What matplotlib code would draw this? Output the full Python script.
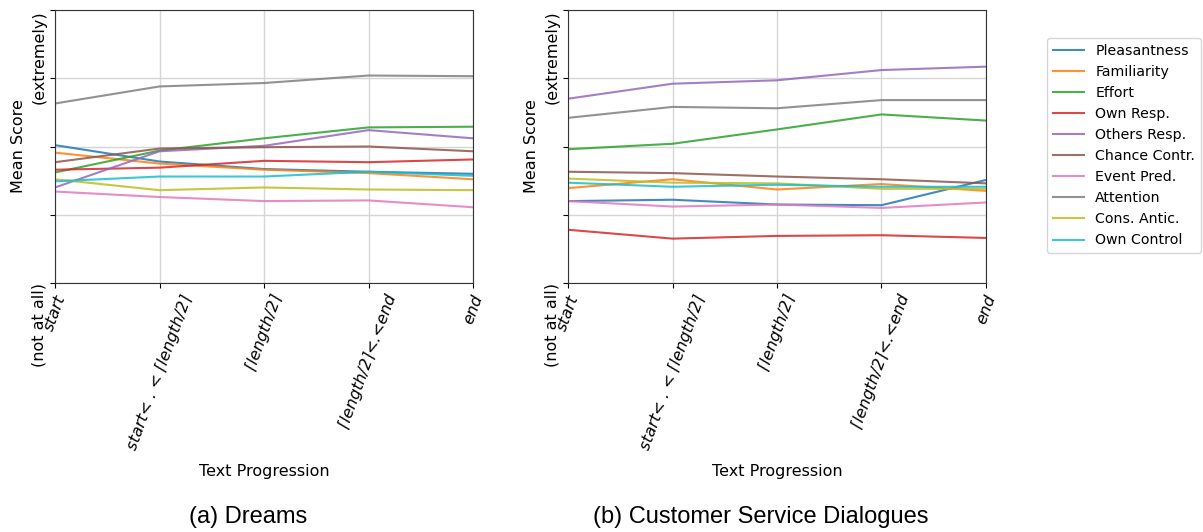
import numpy as np
import matplotlib
matplotlib.use("Agg")
import matplotlib.pyplot as plt

# x positions along the text
stages = ["start",
          "start< . < \u2308length/2\u2309",
          "\u2308length/2\u2309",
          "\u2308length/2\u2309<.<end",
          "end"]

dims = ["Pleasantness", "Familiarity", "Effort", "Own Resp.", "Others Resp.",
        "Chance Contr.", "Event Pred.", "Attention", "Cons. Antic.", "Own Control"]

# (a) Dreams
dreams_pleasantness = [3.02, 2.78, 2.67, 2.63, 2.60]
dreams_familiarity = [2.91, 2.75, 2.66, 2.61, 2.52]
dreams_effort = [2.62, 2.94, 3.12, 3.28, 3.29]
dreams_own_resp = [2.66, 2.69, 2.79, 2.77, 2.81]
dreams_others_resp = [2.40, 2.93, 3.01, 3.24, 3.12]
dreams_chance = [2.77, 2.97, 2.99, 3.00, 2.93]
dreams_event_pred = [2.34, 2.26, 2.20, 2.21, 2.11]
dreams_attention = [3.63, 3.88, 3.93, 4.04, 4.03]
dreams_cons_antic = [2.52, 2.36, 2.40, 2.37, 2.36]
dreams_own_control = [2.49, 2.56, 2.56, 2.63, 2.57]

# (b) Customer Service Dialogues
csd_pleasantness = [2.20, 2.22, 2.15, 2.14, 2.51]
csd_familiarity = [2.39, 2.52, 2.37, 2.45, 2.35]
csd_effort = [2.96, 3.04, 3.25, 3.47, 3.38]
csd_own_resp = [1.78, 1.65, 1.69, 1.70, 1.66]
csd_others_resp = [3.70, 3.92, 3.97, 4.12, 4.17]
csd_chance = [2.63, 2.61, 2.56, 2.52, 2.46]
csd_event_pred = [2.20, 2.12, 2.15, 2.10, 2.18]
csd_attention = [3.42, 3.58, 3.56, 3.68, 3.68]
csd_cons_antic = [2.53, 2.47, 2.46, 2.38, 2.38]
csd_own_control = [2.47, 2.41, 2.44, 2.41, 2.41]

dreams = [dreams_pleasantness, dreams_familiarity, dreams_effort, dreams_own_resp,
          dreams_others_resp, dreams_chance, dreams_event_pred, dreams_attention,
          dreams_cons_antic, dreams_own_control]
csd = [csd_pleasantness, csd_familiarity, csd_effort, csd_own_resp,
       csd_others_resp, csd_chance, csd_event_pred, csd_attention,
       csd_cons_antic, csd_own_control]

captions = ["(a) Dreams", "(b) Customer Service Dialogues"]
colors = plt.rcParams["axes.prop_cycle"].by_key()["color"]

fig = plt.figure(figsize=(12.03, 5.32), dpi=100)
ax_left = [55 / 1203, 568 / 1203]
w = 418 / 1203
bottom = 1 - 283 / 532
h = 273 / 532

x = np.arange(len(stages))
for i, data in enumerate([dreams, csd]):
    ax = fig.add_axes([ax_left[i], bottom, w, h])
    for j, ys in enumerate(data):
        ax.plot(x, ys, color=colors[j], lw=1.5, alpha=0.85, label=dims[j])
    ax.set_xlim(0, 4)
    ax.set_ylim(1, 5)
    ax.set_xticks(x)
    ax.set_xticklabels(stages, rotation=70, ha="center", va="top",
                       fontsize=11.5, style="italic")
    ax.set_yticks([1, 2, 3, 4, 5])
    ax.set_yticklabels(["(not at all)", "", "", "", "(extremely)"],
                       rotation=90, fontsize=11.5, rotation_mode="anchor",
                       ha="right", va="center")
    ax.tick_params(axis="y", pad=8)
    ax.grid(True, color="#d6d6d6", lw=1)
    ax.set_axisbelow(True)
    for s in ax.spines.values():
        s.set_color("#333333")
    ax.set_xlabel("Text Progression", fontsize=11.5, labelpad=9)
    ax.set_ylabel("Mean Score", fontsize=11.5, labelpad=4)
    cx = ax_left[i] + w / 2 - 16 / 1203
    fig.text(cx, 1 - 517 / 532, captions[i], ha="center", va="center",
             fontsize=17, family="Liberation Sans")

handles, labels = ax.get_legend_handles_labels()
fig.legend(handles, labels, loc="upper left", fontsize=10.2,
           bbox_to_anchor=(1040 / 1203, 1 - 31 / 532), handlelength=2.2,
           frameon=True, fancybox=True)

fig.savefig("out.png", dpi=100)
